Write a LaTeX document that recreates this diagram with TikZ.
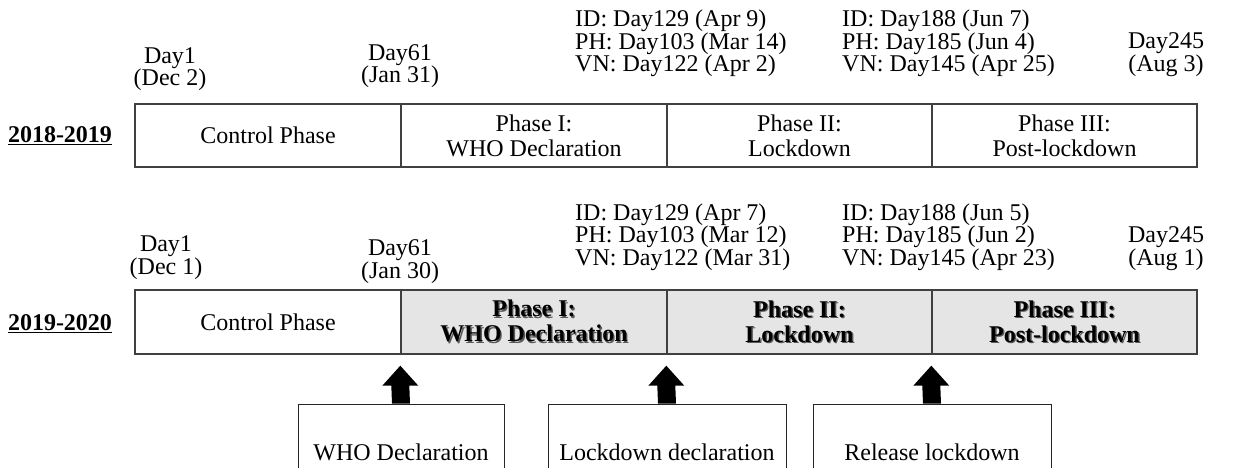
\documentclass[tikz,border=0pt]{standalone}
\usepackage{fontspec}
\setmainfont{Liberation Serif}
\usetikzlibrary{calc}
\definecolor{cellgray}{HTML}{E5E5E5}
\definecolor{edge}{HTML}{404040}
\newcommand\shd[1]{\makebox[0pt][l]{\hspace{1.4pt}\raisebox{-1.4pt}{\textcolor{black!65}{#1}}}#1}
\newcommand\blkarrow[2]{%
  \fill ($(#1)+(-9,0)$) -- ($(#2)+(-9,31)$) -- ($(#2)+(-18,31)$) -- ($(#2)+(0,11)$)
     -- ($(#2)+(18,31)$) -- ($(#2)+(9,31)$) -- ($(#1)+(9,0)$) -- cycle;}
\begin{document}
\begin{tikzpicture}[x=1pt,y=-1pt,
  txt/.style={font=\fontsize{24}{22.5}\selectfont, inner sep=0pt, align=center},
  lst/.style={font=\fontsize{24}{22.5}\selectfont, inner sep=0pt, align=left, anchor=west},
  yr/.style={font=\bfseries\fontsize{24}{22.5}\selectfont, inner sep=0pt},
  cell/.style={draw=edge, line width=1.4pt, inner sep=0pt, align=center,
    font=\fontsize{24}{25}\selectfont},
  topcell/.style={cell, minimum height=63pt},
  botcell/.style={cell, minimum height=64pt},
  shaded/.style={fill=cellgray, font=\bfseries\fontsize{24}{25}\selectfont},
  sbox/.style={draw=black!85, line width=1pt, minimum height=96pt, inner sep=0pt,
    font=\fontsize{24}{22.5}\selectfont}]
\clip (0,0) rectangle (1237,468);
\fill[white] (0,0) rectangle (1237,468);

% ---------- 2018-2019 ----------
\node[yr] (y1) at (60,136) {\underline{2018-2019}};
\node[topcell, minimum width=266pt] (c1) at (268,135.5) {Control Phase};
\node[topcell, minimum width=266pt] (a1) at (534,135.5) {Phase I:\\WHO Declaration};
\node[topcell, minimum width=265pt] (a2) at (799.5,135.5) {Phase II:\\Lockdown};
\node[topcell, minimum width=265pt] (a3) at (1064.5,135.5) {Phase III:\\Post-lockdown};

\node[txt] (d1a) at (170,69) {Day1\\(Dec 2)};
\node[txt] (d61a) at (400,66) {Day61\\(Jan 31)};
\node[lst] (ida) at (575,43.5) {ID: Day129 (Apr 9)\\PH: Day103 (Mar 14)\\VN: Day122 (Apr 2)};
\node[lst] (idb) at (842,43.5) {ID: Day188 (Jun 7)\\PH: Day185 (Jun 4)\\VN: Day145 (Apr 25)};
\node[txt] (d245a) at (1166,54.5) {Day245\\(Aug 3)};

% ---------- 2019-2020 ----------
\node[yr] (y2) at (60,324) {\underline{2019-2020}};
\node[botcell, minimum width=266pt] (c2) at (268,322) {Control Phase};
\node[botcell, shaded, minimum width=266pt] (b1) at (534,322) {\shd{Phase I:}\\\shd{WHO Declaration}};
\node[botcell, shaded, minimum width=265pt] (b2) at (799.5,322) {\shd{Phase II:}\\\shd{Lockdown}};
\node[botcell, shaded, minimum width=265pt] (b3) at (1064.5,322) {\shd{Phase III:}\\\shd{Post-lockdown}};

\node[txt] (d1b) at (166,257.5) {Day1\\(Dec 1)};
\node[txt] (d61b) at (400,261.5) {Day61\\(Jan 30)};
\node[lst] (idc) at (575,237) {ID: Day129 (Apr 7)\\PH: Day103 (Mar 12)\\VN: Day122 (Mar 31)};
\node[lst] (idd) at (842,237) {ID: Day188 (Jun 5)\\PH: Day185 (Jun 2)\\VN: Day145 (Apr 23)};
\node[txt] (d245b) at (1166,248.5) {Day245\\(Aug 1)};

% ---------- events ----------
\node[sbox, minimum width=206pt] (e1) at (401,452) {WHO Declaration};
\node[sbox, minimum width=238pt] (e2) at (667,452) {Lockdown declaration};
\node[sbox, minimum width=238pt] (e3) at (932,452) {Release lockdown};

\blkarrow{e1.north}{b1.south west}
\blkarrow{e2.north}{b2.south west}
\blkarrow{e3.north}{b3.south west}
\end{tikzpicture}
\end{document}
